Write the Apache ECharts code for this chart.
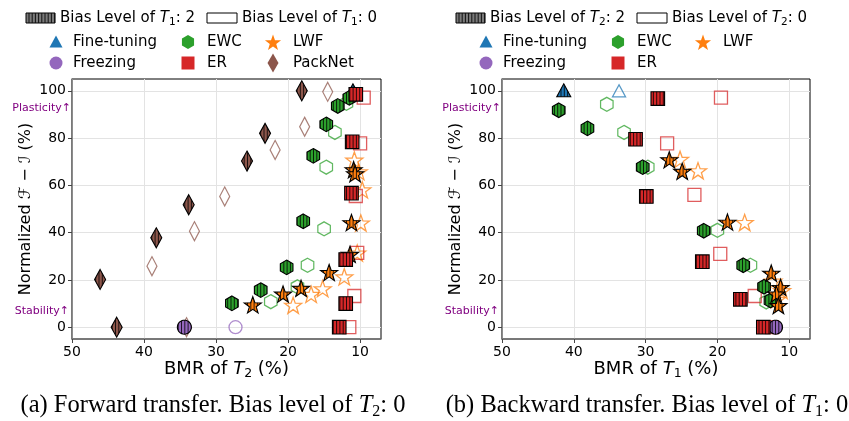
<!DOCTYPE html>
<html><head><meta charset="utf-8">
<script src="https://cdn.jsdelivr.net/npm/echarts@6/dist/echarts.min.js"></script>
<style>html,body{margin:0;padding:0;background:#fff}#c{width:849px;height:421px}</style>
</head><body><div id="c"></div>
<script>
const xTicks=[50,40,30,20,10];
const yTicks=[0,20,40,60,80,100];
// (a) Forward transfer
const fwdFtBias=[[11.0,100]];
const fwdFrBias=[[34.4,0]];
const fwdFrClean=[[27.3,0]];
const fwdEwcBias=[[11.5,97],[13.1,93.6],[14.7,85.8],[16.5,72.5],[17.9,44.8],[20.2,25.3],[23.8,15.7],[27.8,10.1]];
const fwdEwcClean=[[11.9,94.7],[13.5,82.4],[14.7,67.7],[15.0,41.6],[17.3,26.2],[18.7,17.1],[22.4,10.8]];
const fwdLwfBias=[[10.9,66.5],[10.7,64.8],[11.2,44.1],[11.4,30.7],[14.3,23],[18.2,16.3],[20.7,13.9],[24.9,9.3]];
const fwdLwfClean=[[10.8,70.7],[10.2,65.8],[9.7,58.1],[9.9,44.1],[10.4,31.4],[12.2,21.3],[15.2,16.3],[16.8,13.9],[19.3,9.3]];
const fwdErBias=[[10.6,98.5],[11.1,78.4],[11.2,56.7],[12.0,28.6],[12.0,10],[12.9,0]];
const fwdErClean=[[9.5,97.1],[10.0,77.8],[10.6,55.5],[10.4,31.4],[10.8,13.2],[11.5,0]];
const fwdPnBias=[[18.1,100],[23.2,82],[25.7,70.3],[33.8,51.8],[38.3,37.8],[46.1,20.2],[43.8,0]];
const fwdPnClean=[[14.5,99.6],[17.7,84.8],[21.8,75],[28.8,55.3],[33.0,40.6],[38.9,25.8],[34.1,0]];
// (b) Backward transfer
const bwdFtBias=[[41.4,100]];
const bwdFtClean=[[33.7,100]];
const bwdFrBias=[[11.9,0]];
const bwdEwcBias=[[42.1,91.8],[38.1,84.1],[30.4,67.7],[21.9,40.8],[16.4,26.2],[13.5,17.1],[12.6,11.3]];
const bwdEwcClean=[[35.4,94.3],[33.0,82.4],[29.7,67.7],[20.0,41.0],[15.4,26.2],[13.2,10.7]];
const bwdLwfBias=[[26.7,70.7],[24.9,65.8],[18.6,44.3],[12.5,22.7],[11.2,16.7],[11.8,13.9],[11.5,9.0]];
const bwdLwfClean=[[25.2,71],[22.7,66.2],[16.2,44.3],[12.2,19.5],[11.0,15.5],[11.7,11.8]];
const bwdErBias=[[28.3,96.7],[31.4,79.5],[29.9,55.3],[22.1,27.7],[16.8,11.8],[13.6,0]];
const bwdErClean=[[19.5,97.1],[27.0,77.8],[23.2,56],[19.6,31],[14.8,13.2],[12.4,0]];

const methodNames={ft:'Fine-tuning',fr:'Freezing',ewc:'EWC',lwf:'LWF',er:'ER',pn:'PackNet'};

// ---- styles ----
function starPts(cx,cy,R,r){const p=[];for(let i=0;i<10;i++){const a=(-90+i*36)*Math.PI/180;const rr=i%2?r:R;p.push([cx+rr*Math.cos(a),cy+rr*Math.sin(a)]);}return p;}
function hexPts(cx,cy,R){const p=[];for(let i=0;i<6;i++){const a=(-90+i*60)*Math.PI/180;p.push([cx+R*Math.cos(a),cy+R*Math.sin(a)]);}return p;}
function circPts(cx,cy,R){const p=[];for(let i=0;i<32;i++){const a=i*Math.PI/16;p.push([cx+R*Math.cos(a),cy+R*Math.sin(a)]);}return p;}
function shapePts(m,cx,cy){
  if(m==='ft')return [[cx,cy-7],[cx+7,cy+6],[cx-7,cy+6]];
  if(m==='fr')return circPts(cx,cy,7);
  if(m==='ewc')return hexPts(cx,cy,7.3);
  if(m==='lwf')return starPts(cx,cy+0.5,9,3.6);
  if(m==='er')return [[cx-6.8,cy-6.8],[cx+6.8,cy-6.8],[cx+6.8,cy+6.8],[cx-6.8,cy+6.8]];
  return [[cx,cy-10],[cx+5.5,cy],[cx,cy+10],[cx-5.5,cy]];
}
function toPath(pts){return 'path://'+pts.map((q,i)=>(i?'L':'M')+q[0].toFixed(3)+','+q[1].toFixed(3)).join('')+'Z';}
const STAR=toPath(starPts(0,0,1,0.4));
const HEX=toPath(hexPts(0,0,1));
const C={ft:'#1f77b4',fr:'#9467bd',ewc:'#2ca02c',lwf:'#ff7f0e',er:'#d62728',pn:'#8c564b'};
const SYM={ft:'triangle',fr:'circle',ewc:HEX,lwf:STAR,er:'rect',pn:'diamond'};
const SIZE={ft:[13,12],fr:13,ewc:[12.5,14],lwf:17,er:13,pn:[10,19]};

function hollow(data,m,gi){
  return {type:'scatter',xAxisIndex:gi,yAxisIndex:gi,data:data,symbol:SYM[m],symbolSize:SIZE[m],
    symbolKeepAspect:m==='lwf',silent:true,animation:false,z:2,
    itemStyle:{color:'rgba(255,255,255,0)',borderColor:C[m],borderWidth:1.3,opacity:0.75},
    emphasis:{disabled:true}};
}
function hatched(data,m,gi){
  return {type:'custom',xAxisIndex:gi,yAxisIndex:gi,data:data,silent:true,animation:false,z:3,
    encode:{x:0,y:1},
    renderItem:function(params,api){
      const p=api.coord([api.value(0),api.value(1)]);
      const pts=shapePts(m,p[0],p[1]);
      const lines=[];
      const x0=Math.floor((p[0]-11)/3.3)*3.3;
      for(let x=x0;x<p[0]+11;x+=3.3)lines.push({type:'line',shape:{x1:x,y1:p[1]-12,x2:x,y2:p[1]+12},style:{stroke:'rgba(0,0,0,0.8)',lineWidth:1}});
      return {type:'group',children:[
        {type:'polygon',shape:{points:pts},style:{fill:C[m],stroke:null}},
        {type:'group',clipPath:{type:'polygon',shape:{points:pts}},children:lines},
        {type:'polygon',shape:{points:pts},style:{fill:null,stroke:'#000',lineWidth:1.1}}
      ]};
    }};
}
const series=[
  hollow(fwdFrClean,'fr',0),hollow(fwdEwcClean,'ewc',0),hollow(fwdLwfClean,'lwf',0),hollow(fwdErClean,'er',0),hollow(fwdPnClean,'pn',0),
  hatched(fwdFtBias,'ft',0),hatched(fwdFrBias,'fr',0),hatched(fwdEwcBias,'ewc',0),hatched(fwdLwfBias,'lwf',0),hatched(fwdErBias,'er',0),hatched(fwdPnBias,'pn',0),
  hollow(bwdFtClean,'ft',1),hollow(bwdEwcClean,'ewc',1),hollow(bwdLwfClean,'lwf',1),hollow(bwdErClean,'er',1),
  hatched(bwdFtBias,'ft',1),hatched(bwdFrBias,'fr',1),hatched(bwdEwcBias,'ewc',1),hatched(bwdLwfBias,'lwf',1),hatched(bwdErBias,'er',1)
];

const FONT='DejaVu Sans';
const richSub={n:{fontFamily:FONT,fontSize:15,color:'#000',lineHeight:20},i:{fontFamily:FONT,fontSize:15,fontStyle:'italic',color:'#000',lineHeight:20},s:{fontFamily:FONT,fontSize:10.5,color:'#000',lineHeight:9,verticalAlign:'bottom'}};

function xAx(gi,t){return {type:'value',gridIndex:gi,inverse:true,min:7.1,max:50,
  name:'{n|BMR of }{i|T}{s|'+t+'}{n| (%)}',nameLocation:'middle',nameGap:19,nameMoveOverlap:false,
  nameTextStyle:{rich:{n:{fontFamily:FONT,fontSize:18,color:'#000',lineHeight:22},i:{fontFamily:FONT,fontSize:18,fontStyle:'italic',color:'#000',lineHeight:22},s:{fontFamily:FONT,fontSize:12.5,color:'#000',lineHeight:10,verticalAlign:'bottom'}}},
  axisLine:{show:true,onZero:false,lineStyle:{color:'#777',width:1.6}},
  axisTick:{show:true,length:4,customValues:xTicks,lineStyle:{color:'#444'}},
  axisLabel:{customValues:xTicks,fontFamily:FONT,fontSize:14,color:'#000',margin:6},
  splitLine:{show:true,lineStyle:{color:'#e3e3e3',width:1}}};}
function yAx(gi){return {type:'value',gridIndex:gi,min:-5,max:105,
  name:'Normalized ℱ − ℐ (%)',nameLocation:'middle',nameGap:38,nameMoveOverlap:false,
  nameTextStyle:{fontFamily:FONT,fontSize:16,color:'#000'},
  axisLine:{show:true,onZero:false,lineStyle:{color:'#777',width:1.6}},
  axisTick:{show:true,length:4,customValues:yTicks,lineStyle:{color:'#444'}},
  axisLabel:{customValues:yTicks,fontFamily:FONT,fontSize:14,color:'#000',margin:6},
  splitLine:{show:true,lineStyle:{color:'#e3e3e3',width:1}}};}

// ---- legend graphics ----
function legend(dx,t,withPn){
  const els=[];
  els.push({type:'rect',shape:{x:26+dx,y:13,width:29,height:10},style:{fill:'#7a7a7a',stroke:'#000',lineWidth:1}});
  for(let x=29+dx;x<55+dx;x+=3.2)els.push({type:'line',shape:{x1:x,y1:13,x2:x,y2:23},style:{stroke:'#111',lineWidth:1}});
  els.push({type:'text',x:60+dx,y:18,style:{text:'{n|Bias Level of }{i|T}{s|'+t+'}{n|: 2}',rich:richSub,verticalAlign:'middle'}});
  els.push({type:'rect',shape:{x:207+dx,y:13,width:30,height:10},style:{fill:'none',stroke:'#000',lineWidth:1}});
  els.push({type:'text',x:242+dx,y:18,style:{text:'{n|Bias Level of }{i|T}{s|'+t+'}{n|: 0}',rich:richSub,verticalAlign:'middle'}});
  const r2=42,r3=63,c1=56+dx,c2=188+dx,c3=273+dx;
  els.push({type:'polygon',shape:{points:[[c1,r2-6.5],[c1+6.5,r2+5.5],[c1-6.5,r2+5.5]]},style:{fill:C.ft}});
  els.push({type:'polygon',shape:{points:hexPts(c2,r2,7)},style:{fill:C.ewc}});
  els.push({type:'polygon',shape:{points:starPts(c3,r2+1,8.5,3.4)},style:{fill:C.lwf}});
  els.push({type:'circle',shape:{cx:c1,cy:r3,r:6.5},style:{fill:C.fr}});
  els.push({type:'rect',shape:{x:c2-6.5,y:r3-6.5,width:13,height:13},style:{fill:C.er}});
  if(withPn)els.push({type:'polygon',shape:{points:[[c3,r3-9.5],[c3+5.5,r3],[c3,r3+9.5],[c3-5.5,r3]]},style:{fill:C.pn}});
  const txt=(x,y,s)=>({type:'text',x:x,y:y,style:{text:s,fontFamily:FONT,fontSize:15,fill:'#000',verticalAlign:'middle'}});
  els.push(txt(73+dx,r2,methodNames.ft),txt(207+dx,r2,methodNames.ewc),txt(293+dx,r2,methodNames.lwf));
  els.push(txt(73+dx,r3,methodNames.fr),txt(207+dx,r3,methodNames.er));
  if(withPn)els.push(txt(293+dx,r3,methodNames.pn));
  const ann=(x,y,s)=>({type:'text',x:x,y:y,style:{text:s,fontFamily:FONT,fontSize:11,fill:'#800080',align:'right',verticalAlign:'middle'}});
  els.push(ann(71+dx,108,'Plasticity↑'),ann(69+dx,311,'Stability↑'));
  return els;
}
const capRich={n:{fontFamily:'Liberation Serif',fontSize:24.5,color:'#000',lineHeight:28},i:{fontFamily:'Liberation Serif',fontSize:24.5,fontStyle:'italic',color:'#000',lineHeight:28},s:{fontFamily:'Liberation Serif',fontSize:16,color:'#000',lineHeight:12,verticalAlign:'bottom'}};
const graphics=[].concat(legend(0,'1',true),legend(430,'2',false),[
  {type:'text',x:213,y:406,style:{text:'{n|(a) Forward transfer. Bias level of }{i|T}{s|2}{n|: 0}',rich:capRich,align:'center',verticalAlign:'middle'}},
  {type:'text',x:647,y:406,style:{text:'{n|(b) Backward transfer. Bias level of }{i|T}{s|1}{n|: 0}',rich:capRich,align:'center',verticalAlign:'middle'}}
]);

const chart=echarts.init(document.getElementById('c'),null,{renderer:'canvas'});
chart.setOption({
  animation:false,backgroundColor:'#fff',
  grid:[{left:72,top:79,width:309,height:260,show:true,borderColor:'#000',borderWidth:1,outerBoundsMode:'none'},
        {left:502,top:79,width:308,height:260,show:true,borderColor:'#000',borderWidth:1,outerBoundsMode:'none'}],
  xAxis:[xAx(0,'2'),xAx(1,'1')],
  yAxis:[yAx(0),yAx(1)],
  series:series,
  graphic:graphics
});
</script></body></html>
